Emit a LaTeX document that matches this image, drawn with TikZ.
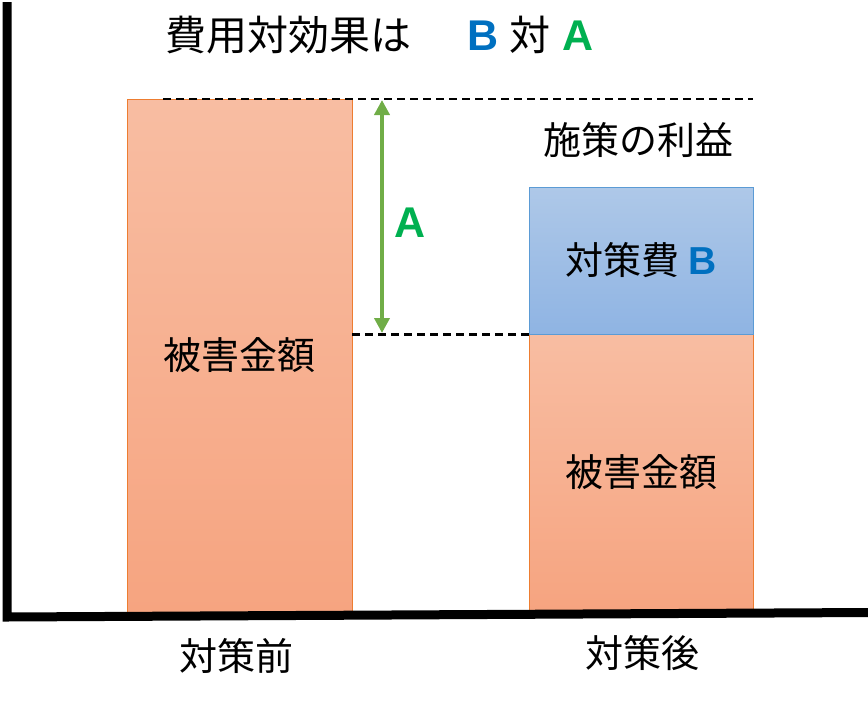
\documentclass[tikz,border=0pt]{standalone}
\usepackage{fontspec}
\setmainfont{Noto Sans CJK JP}
\newfontfamily\latinfont{Liberation Sans}
\usepackage{tikz}
\usetikzlibrary{arrows.meta}
\definecolor{otop}{HTML}{F8BDA2}
\definecolor{obot}{HTML}{F6A480}
\definecolor{oline}{HTML}{ED7D31}
\definecolor{btop}{HTML}{AEC8E8}
\definecolor{bbot}{HTML}{8FB4E3}
\definecolor{bline}{HTML}{5B9BD5}
\definecolor{bblue}{HTML}{0070C0}
\definecolor{agreen}{HTML}{00B050}
\definecolor{arrowgreen}{HTML}{70AD47}

\begin{document}
\begin{tikzpicture}
  [x=1pt,y=-1pt,every node/.style={inner sep=0pt},
   lbl/.style={font=\fontsize{38}{40}\selectfont,anchor=base},
   ttl/.style={font=\fontsize{41}{44}\selectfont,anchor=base},
   ltr/.style={font=\fontsize{43}{46}\selectfont\latinfont\bfseries,anchor=base},
   orangebar/.style={draw=oline,line width=0.8pt,top color=otop,bottom color=obot,
                     font=\fontsize{38}{40}\selectfont},
   bluebar/.style={draw=bline,line width=0.8pt,top color=btop,bottom color=bbot,
                   font=\fontsize{38}{40}\selectfont},
   dashline/.style={line width=2.2pt,dash pattern=on 8pt off 5pt},
   benefit/.style={arrowgreen,line width=4.5pt,
                   {Triangle[width=15pt,length=15pt]}-{Triangle[width=15pt,length=15pt]}}]
\useasboundingbox (0,0) rectangle (868,705);

\node [orangebar,minimum width=225pt,minimum height=513pt] (before) at (239.5,355.5) {被害金額};
\node [orangebar,minimum width=224pt,minimum height=276pt] (after)  at (641,472) {被害金額};
\node [bluebar,minimum width=224pt,minimum height=147pt]   (cost)   at (641,260.5)
      {対策費 {\fontsize{39}{40}\selectfont\latinfont\bfseries\color{bblue}B}};

\coordinate (ytop)   at (7,2) ;
\coordinate (origin) at (7,617) ;
\coordinate (xend)   at (868,612.5) ;
\draw [line width=9pt] (ytop) -- (origin) -- (xend) ;

\coordinate (dstart) at (163,99) ;
\draw [dashline] (dstart) -- (cost.north east |- dstart) ;
\draw [dashline] (before.east |- cost.south west) -- (cost.south west) ;

\coordinate (atop) at (382,100) ;
\coordinate (abot) at (382,333) ;
\draw [benefit] (atop) -- (abot) ;
\node [ltr,agreen] (alabel) at (410,237) {A};

\node [lbl] (gain)   at (638,154) {施策の利益};
\node [lbl] (pre)    at (236,670) {対策前};
\node [lbl] (post)   at (642,667) {対策後};

\node [ttl,anchor=base west] (title) at (165,50) {費用対効果は};
\node [ltr,bblue]  (tb) at (483,50) {B};
\node [ttl]        (tt) at (530,50) {対};
\node [ltr,agreen] (ta) at (578,50) {A};
\end{tikzpicture}
\end{document}
